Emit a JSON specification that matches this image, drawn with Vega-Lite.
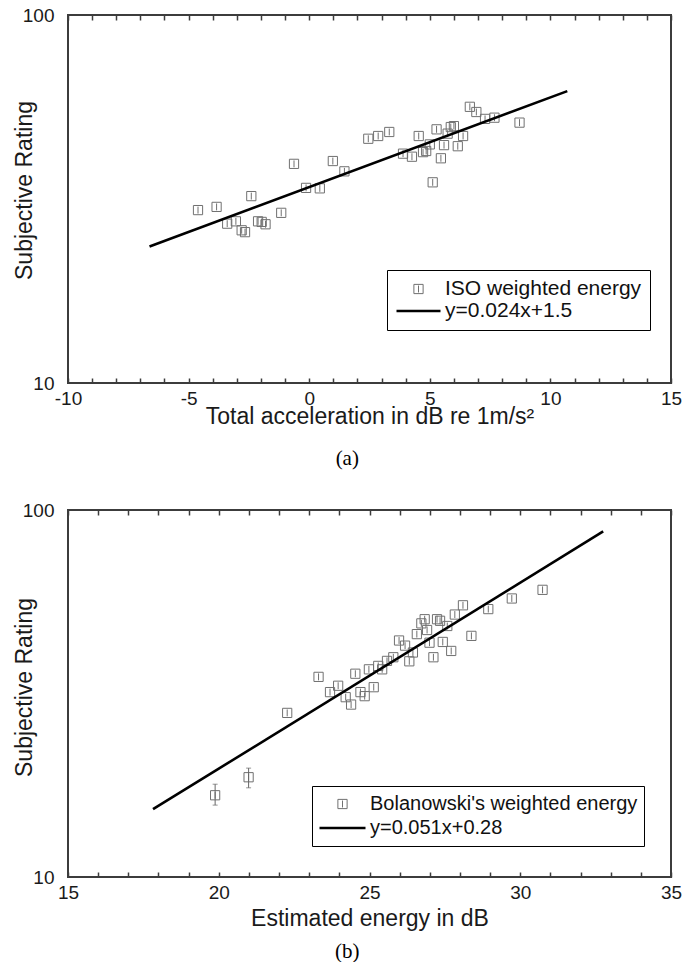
{
  "$schema": "https://vega.github.io/schema/vega-lite/v6.json",
  "padding": {"left": 12, "top": 5, "right": 5, "bottom": 2},
  "background": "white",
  "spacing": 30,
  "resolve": {"scale": {"color": "independent", "shape": "independent", "size": "independent", "strokeWidth": "independent"}, "legend": {"color": "independent", "shape": "independent", "size": "independent", "strokeWidth": "independent"}},
  "config": {
    "view": {"stroke": "#3c3c3c", "strokeWidth": 2},
    "font": "Liberation Sans",
    "axis": {
      "grid": false, "domain": false,
      "labelFont": "Liberation Sans", "labelFontSize": 19, "labelColor": "#1a1a1a",
      "titleFont": "Liberation Sans", "titleFontSize": 23, "titleFontWeight": "normal", "titleColor": "#1a1a1a",
      "tickColor": "#3c3c3c", "tickWidth": 1.5, "labelFlush": false, "labelOverlap": false
    },
    "title": {"font": "Liberation Serif", "fontSize": 21, "fontWeight": "normal", "color": "#000000"}
  },
  "vconcat": [
    {
      "width": 603, "height": 368,
      "title": {"text": "(a)", "orient": "bottom", "anchor": "middle", "frame": "bounds", "offset": 20},
      "resolve": {"axis": {"x": "independent", "y": "independent"}},
      "layer": [
        {
          "data": {"values": [
            {"x": -4.61, "y": 29.5, "series": "ISO weighted energy"},
            {"x": -3.84, "y": 30.1, "series": "ISO weighted energy"},
            {"x": -3.40, "y": 27.1, "series": "ISO weighted energy"},
            {"x": -3.04, "y": 27.5, "series": "ISO weighted energy"},
            {"x": -2.80, "y": 26.0, "series": "ISO weighted energy"},
            {"x": -2.66, "y": 25.7, "series": "ISO weighted energy"},
            {"x": -2.40, "y": 32.2, "series": "ISO weighted energy"},
            {"x": -2.12, "y": 27.5, "series": "ISO weighted energy"},
            {"x": -1.97, "y": 27.4, "series": "ISO weighted energy"},
            {"x": -1.81, "y": 27.0, "series": "ISO weighted energy"},
            {"x": -1.16, "y": 29.0, "series": "ISO weighted energy"},
            {"x": -0.63, "y": 39.4, "series": "ISO weighted energy"},
            {"x": -0.13, "y": 33.9, "series": "ISO weighted energy"},
            {"x": 0.44, "y": 33.8, "series": "ISO weighted energy"},
            {"x": 0.98, "y": 40.1, "series": "ISO weighted energy"},
            {"x": 1.46, "y": 37.6, "series": "ISO weighted energy"},
            {"x": 2.45, "y": 46.1, "series": "ISO weighted energy"},
            {"x": 2.86, "y": 46.9, "series": "ISO weighted energy"},
            {"x": 3.32, "y": 48.1, "series": "ISO weighted energy"},
            {"x": 3.89, "y": 42.0, "series": "ISO weighted energy"},
            {"x": 4.26, "y": 41.2, "series": "ISO weighted energy"},
            {"x": 4.54, "y": 46.9, "series": "ISO weighted energy"},
            {"x": 4.72, "y": 42.4, "series": "ISO weighted energy"},
            {"x": 4.85, "y": 42.7, "series": "ISO weighted energy"},
            {"x": 5.00, "y": 44.5, "series": "ISO weighted energy"},
            {"x": 5.12, "y": 35.1, "series": "ISO weighted energy"},
            {"x": 5.28, "y": 48.9, "series": "ISO weighted energy"},
            {"x": 5.46, "y": 40.8, "series": "ISO weighted energy"},
            {"x": 5.59, "y": 44.3, "series": "ISO weighted energy"},
            {"x": 5.74, "y": 47.6, "series": "ISO weighted energy"},
            {"x": 5.87, "y": 49.6, "series": "ISO weighted energy"},
            {"x": 6.00, "y": 49.9, "series": "ISO weighted energy"},
            {"x": 6.16, "y": 44.0, "series": "ISO weighted energy"},
            {"x": 6.38, "y": 46.9, "series": "ISO weighted energy"},
            {"x": 6.66, "y": 56.3, "series": "ISO weighted energy"},
            {"x": 6.93, "y": 54.5, "series": "ISO weighted energy"},
            {"x": 7.29, "y": 52.2, "series": "ISO weighted energy"},
            {"x": 7.68, "y": 52.6, "series": "ISO weighted energy"},
            {"x": 8.72, "y": 51.0, "series": "ISO weighted energy"}
          ]},
          "mark": {"type": "point", "filled": false, "opacity": 1},
          "encoding": {
            "x": {"field": "x", "type": "quantitative",
              "scale": {"domain": [-10, 15], "nice": false, "zero": false},
              "axis": {"orient": "bottom", "values": [-10,-9,-8,-7,-6,-5,-4,-3,-2,-1,0,1,2,3,4,5,6,7,8,9,10,11,12,13,14,15],
                "labelExpr": "datum.value % 5 === 0 ? '' + datum.value : ''",
                "offset": -5, "tickSize": 5, "labelPadding": 6,
                "title": "Total acceleration in dB re 1m/s²", "titleY": 45, "titleBaseline": "alphabetic"}},
            "y": {"field": "y", "type": "quantitative",
              "scale": {"type": "log", "domain": [10, 100], "nice": false},
              "axis": {"values": [10, 100], "format": "d", "ticks": false, "tickSize": 0, "labelPadding": 14,
                "title": "Subjective Rating", "titleX": -37, "titleY": 175, "titleAngle": -90,
                "titleBaseline": "alphabetic", "titleAlign": "center"}},
            "color": {"field": "series", "type": "nominal",
              "scale": {"domain": ["ISO weighted energy", "y=0.024x+1.5"], "range": ["#707070", "#000000"]},
              "legend": {
                "title": null, "orient": "none", "legendX": 319, "legendY": 255, "direction": "vertical",
                "strokeColor": "#000000", "fillColor": "#ffffff", "padding": 8,
                "labelFont": "Liberation Sans", "labelFontSize": 21, "labelColor": "#111111", "labelOffset": 3, "labelLimit": 400,
                "clipHeight": 22, "rowPadding": 0
              }},
            "shape": {"field": "series", "type": "nominal",
              "scale": {"domain": ["ISO weighted energy", "y=0.024x+1.5"], "range": ["M-1,-1H1V1H-1Z M0,-0.75V0.75", "stroke"]},
              "legend": {
                "title": null, "orient": "none", "legendX": 319, "legendY": 255, "direction": "vertical",
                "strokeColor": "#000000", "fillColor": "#ffffff", "padding": 8,
                "labelFont": "Liberation Sans", "labelFontSize": 21, "labelColor": "#111111", "labelOffset": 3, "labelLimit": 400,
                "clipHeight": 22, "rowPadding": 0
              }},
            "size": {"field": "series", "type": "nominal",
              "scale": {"type": "point", "padding": 0, "domain": ["ISO weighted energy", "y=0.024x+1.5"], "range": [85, 1936]},
              "legend": {
                "title": null, "orient": "none", "legendX": 319, "legendY": 255, "direction": "vertical",
                "strokeColor": "#000000", "fillColor": "#ffffff", "padding": 8,
                "labelFont": "Liberation Sans", "labelFontSize": 21, "labelColor": "#111111", "labelOffset": 3, "labelLimit": 400,
                "clipHeight": 22, "rowPadding": 0
              }},
            "strokeWidth": {"field": "series", "type": "nominal",
              "scale": {"type": "point", "padding": 0, "domain": ["ISO weighted energy", "y=0.024x+1.5"], "range": [1, 2.6]},
              "legend": {
                "title": null, "orient": "none", "legendX": 319, "legendY": 255, "direction": "vertical",
                "strokeColor": "#000000", "fillColor": "#ffffff", "padding": 8,
                "labelFont": "Liberation Sans", "labelFontSize": 21, "labelColor": "#111111", "labelOffset": 3, "labelLimit": 400,
                "clipHeight": 22, "rowPadding": 0
              }}
          }
        },
        {
          "data": {"values": [
            {"x": -6.62, "y": 23.5, "series": "y=0.024x+1.5"},
            {"x": 10.70, "y": 62.1, "series": "y=0.024x+1.5"}
          ]},
          "mark": {"type": "line", "strokeWidth": 2.6, "color": "#000000"},
          "encoding": {
            "x": {"field": "x", "type": "quantitative",
              "scale": {"domain": [-10, 15], "nice": false, "zero": false},
              "axis": {"orient": "top", "values": [-10,-9,-8,-7,-6,-5,-4,-3,-2,-1,0,1,2,3,4,5,6,7,8,9,10,11,12,13,14,15],
                "labels": false, "offset": -5, "tickSize": 5, "title": null}},
            "y": {"field": "y", "type": "quantitative", "scale": {"type": "log", "domain": [10, 100], "nice": false}, "axis": null}
          }
        }
      ]
    },
    {
      "width": 603, "height": 367,
      "title": {"text": "(b)", "orient": "bottom", "anchor": "middle", "frame": "bounds", "offset": 11},
      "resolve": {"axis": {"x": "independent", "y": "independent"}},
      "layer": [
        {
          "data": {"values": [
            {"x": 19.88, "y": 16.7, "series": "Bolanowski's weighted energy"},
            {"x": 20.99, "y": 18.7, "series": "Bolanowski's weighted energy"},
            {"x": 22.27, "y": 28.0, "series": "Bolanowski's weighted energy"},
            {"x": 23.31, "y": 35.1, "series": "Bolanowski's weighted energy"},
            {"x": 23.69, "y": 31.9, "series": "Bolanowski's weighted energy"},
            {"x": 23.96, "y": 33.2, "series": "Bolanowski's weighted energy"},
            {"x": 24.21, "y": 30.9, "series": "Bolanowski's weighted energy"},
            {"x": 24.39, "y": 29.5, "series": "Bolanowski's weighted energy"},
            {"x": 24.53, "y": 35.8, "series": "Bolanowski's weighted energy"},
            {"x": 24.70, "y": 31.9, "series": "Bolanowski's weighted energy"},
            {"x": 24.84, "y": 31.1, "series": "Bolanowski's weighted energy"},
            {"x": 24.98, "y": 36.8, "series": "Bolanowski's weighted energy"},
            {"x": 25.14, "y": 32.9, "series": "Bolanowski's weighted energy"},
            {"x": 25.29, "y": 37.6, "series": "Bolanowski's weighted energy"},
            {"x": 25.42, "y": 36.8, "series": "Bolanowski's weighted energy"},
            {"x": 25.58, "y": 38.8, "series": "Bolanowski's weighted energy"},
            {"x": 25.79, "y": 39.7, "series": "Bolanowski's weighted energy"},
            {"x": 25.98, "y": 44.1, "series": "Bolanowski's weighted energy"},
            {"x": 26.18, "y": 42.7, "series": "Bolanowski's weighted energy"},
            {"x": 26.32, "y": 38.7, "series": "Bolanowski's weighted energy"},
            {"x": 26.44, "y": 40.9, "series": "Bolanowski's weighted energy"},
            {"x": 26.57, "y": 45.9, "series": "Bolanowski's weighted energy"},
            {"x": 26.72, "y": 49.1, "series": "Bolanowski's weighted energy"},
            {"x": 26.83, "y": 50.4, "series": "Bolanowski's weighted energy"},
            {"x": 26.91, "y": 47.1, "series": "Bolanowski's weighted energy"},
            {"x": 26.99, "y": 43.5, "series": "Bolanowski's weighted energy"},
            {"x": 27.12, "y": 39.7, "series": "Bolanowski's weighted energy"},
            {"x": 27.24, "y": 50.4, "series": "Bolanowski's weighted energy"},
            {"x": 27.34, "y": 49.9, "series": "Bolanowski's weighted energy"},
            {"x": 27.43, "y": 43.7, "series": "Bolanowski's weighted energy"},
            {"x": 27.58, "y": 48.3, "series": "Bolanowski's weighted energy"},
            {"x": 27.71, "y": 41.3, "series": "Bolanowski's weighted energy"},
            {"x": 27.83, "y": 51.9, "series": "Bolanowski's weighted energy"},
            {"x": 28.10, "y": 55.0, "series": "Bolanowski's weighted energy"},
            {"x": 28.38, "y": 45.4, "series": "Bolanowski's weighted energy"},
            {"x": 28.94, "y": 53.7, "series": "Bolanowski's weighted energy"},
            {"x": 29.72, "y": 57.4, "series": "Bolanowski's weighted energy"},
            {"x": 30.74, "y": 60.6, "series": "Bolanowski's weighted energy"}
          ]},
          "mark": {"type": "point", "filled": false, "opacity": 1},
          "encoding": {
            "x": {"field": "x", "type": "quantitative",
              "scale": {"domain": [15, 35], "nice": false, "zero": false},
              "axis": {"orient": "bottom", "values": [15,16,17,18,19,20,21,22,23,24,25,26,27,28,29,30,31,32,33,34,35],
                "labelExpr": "datum.value % 5 === 0 ? '' + datum.value : ''",
                "offset": -5, "tickSize": 5, "labelPadding": 6,
                "title": "Estimated energy in dB", "titleY": 53, "titleBaseline": "alphabetic"}},
            "y": {"field": "y", "type": "quantitative",
              "scale": {"type": "log", "domain": [10, 100], "nice": false},
              "axis": {"values": [10, 100], "format": "d", "ticks": false, "tickSize": 0, "labelPadding": 14,
                "title": "Subjective Rating", "titleX": -37, "titleY": 177, "titleAngle": -90,
                "titleBaseline": "alphabetic", "titleAlign": "center"}},
            "color": {"field": "series", "type": "nominal",
              "scale": {"domain": ["Bolanowski's weighted energy", "y=0.051x+0.28"], "range": ["#707070", "#000000"]},
              "legend": {
                "title": null, "orient": "none", "legendX": 244, "legendY": 276, "direction": "vertical",
                "strokeColor": "#000000", "fillColor": "#ffffff", "padding": 6,
                "labelFont": "Liberation Sans", "labelFontSize": 20, "labelColor": "#111111", "labelOffset": 3, "labelLimit": 400,
                "clipHeight": 24, "rowPadding": 0
              }},
            "shape": {"field": "series", "type": "nominal",
              "scale": {"domain": ["Bolanowski's weighted energy", "y=0.051x+0.28"], "range": ["M-1,-1H1V1H-1Z M0,-0.75V0.75", "stroke"]},
              "legend": {
                "title": null, "orient": "none", "legendX": 244, "legendY": 276, "direction": "vertical",
                "strokeColor": "#000000", "fillColor": "#ffffff", "padding": 6,
                "labelFont": "Liberation Sans", "labelFontSize": 20, "labelColor": "#111111", "labelOffset": 3, "labelLimit": 400,
                "clipHeight": 24, "rowPadding": 0
              }},
            "size": {"field": "series", "type": "nominal",
              "scale": {"type": "point", "padding": 0, "domain": ["Bolanowski's weighted energy", "y=0.051x+0.28"], "range": [85, 2116]},
              "legend": {
                "title": null, "orient": "none", "legendX": 244, "legendY": 276, "direction": "vertical",
                "strokeColor": "#000000", "fillColor": "#ffffff", "padding": 6,
                "labelFont": "Liberation Sans", "labelFontSize": 20, "labelColor": "#111111", "labelOffset": 3, "labelLimit": 400,
                "clipHeight": 24, "rowPadding": 0
              }},
            "strokeWidth": {"field": "series", "type": "nominal",
              "scale": {"type": "point", "padding": 0, "domain": ["Bolanowski's weighted energy", "y=0.051x+0.28"], "range": [1, 2.6]},
              "legend": {
                "title": null, "orient": "none", "legendX": 244, "legendY": 276, "direction": "vertical",
                "strokeColor": "#000000", "fillColor": "#ffffff", "padding": 6,
                "labelFont": "Liberation Sans", "labelFontSize": 20, "labelColor": "#111111", "labelOffset": 3, "labelLimit": 400,
                "clipHeight": 24, "rowPadding": 0
              }}
          }
        },
        {
          "data": {"values": [
            {"x": 19.88, "lo": 15.7, "hi": 17.9},
            {"x": 20.99, "lo": 17.5, "hi": 19.8}
          ]},
          "mark": {"type": "errorbar", "ticks": {"size": 5, "color": "#666666"}, "rule": {"color": "#666666", "strokeWidth": 1}},
          "encoding": {
            "x": {"field": "x", "type": "quantitative", "scale": {"domain": [15, 35], "nice": false, "zero": false}, "axis": null},
            "y": {"field": "lo", "type": "quantitative", "scale": {"type": "log", "domain": [10, 100], "nice": false}, "axis": null},
            "y2": {"field": "hi"}
          }
        },
        {
          "data": {"values": [
            {"x": 17.82, "y": 15.3, "series": "y=0.051x+0.28"},
            {"x": 32.75, "y": 87.4, "series": "y=0.051x+0.28"}
          ]},
          "mark": {"type": "line", "strokeWidth": 2.6, "color": "#000000"},
          "encoding": {
            "x": {"field": "x", "type": "quantitative",
              "scale": {"domain": [15, 35], "nice": false, "zero": false},
              "axis": {"orient": "top", "values": [15,16,17,18,19,20,21,22,23,24,25,26,27,28,29,30,31,32,33,34,35],
                "labels": false, "offset": -5, "tickSize": 5, "title": null}},
            "y": {"field": "y", "type": "quantitative", "scale": {"type": "log", "domain": [10, 100], "nice": false}, "axis": null}
          }
        }
      ]
    }
  ]
}
